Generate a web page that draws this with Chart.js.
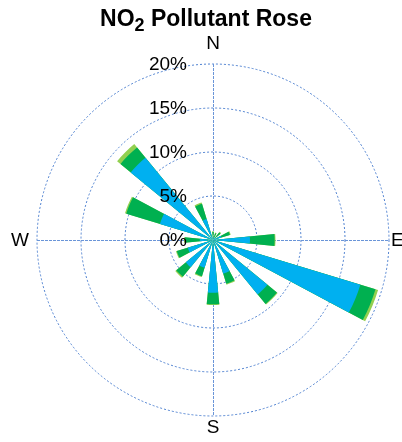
<!DOCTYPE html>
<html>
<head>
<meta charset="utf-8">
<script src="https://cdn.jsdelivr.net/npm/chart.js@4"></script>
<style>
  body { margin: 0; background: #fff; }
  .wrap { position: relative; width: 402px; height: 442px; }
  .title {
    position: absolute; left: 5px; top: 5px; width: 402px;
    text-align: center; font: bold 23px "Liberation Sans", Arial, sans-serif; color: #000;
  }
  .title sub { font-size: 18px; vertical-align: -5px; line-height: 0; }
  canvas { position: absolute; left: 0; top: 0; }
</style>
</head>
<body>
<div class="wrap">
  <canvas id="rose" width="402" height="442"></canvas>
  <div class="title">NO<sub>2</sub> Pollutant Rose</div>
</div>
<script>
// wind sectors, clockwise from north
const directions = ['N', 'NNE', 'NE', 'ENE', 'E', 'ESE', 'SE', 'SSE', 'S', 'SSW', 'SW', 'WSW', 'W', 'WNW', 'NW', 'NNW'];

// frequency (%) per sector for each concentration band, inner to outer
const bandLow  = [0.3, 0.3, 0.4, 1.0, 4.2, 17.5, 8.0, 4.0, 6.0, 3.3, 4.0, 3.0, 1.5, 6.3, 12.1, 2.5];
const bandMid  = [0.6, 0.5, 0.7, 1.0, 2.8, 1.8, 1.4, 1.2, 1.3, 1.0, 1.4, 1.3, 1.7, 4.0, 1.5, 1.8];
const bandHigh = [0.1, 0.1, 0.1, 0.1, 0.1, 0.3, 0.1, 0.1, 0.1, 0.1, 0.15, 0.1, 0.1, 0.15, 0.5, 0.15];

const ringTicks = [0, 5, 10, 15, 20];
const compass = ['N', 'E', 'S', 'W'];

const bandColors = ['#00B0F0', '#00B050', '#92D050'];
const gridColor = '#4F81D0';
const font = '"Liberation Sans", Arial, sans-serif';

// cumulative radii so the bands stack outward
const cumLow  = bandLow;
const cumMid  = bandLow.map((v, i) => v + bandMid[i]);
const cumHigh = cumMid.map((v, i) => v + bandHigh[i]);

// every sector is followed by an empty slot of the same width, so petals get gaps
const spread = arr => arr.flatMap(v => [v, 0]);
const labels = directions.flatMap(d => [d, '']);

const roseDecor = {
  id: 'roseDecor',
  beforeDatasetsDraw(chart) {
    const r = chart.scales.r;
    const ctx = chart.ctx;
    const R = r.drawingArea;
    ctx.save();
    ctx.strokeStyle = '#6A95D8';
    ctx.lineWidth = 1;
    ctx.setLineDash([3, 1]);
    ctx.beginPath();
    ctx.moveTo(r.xCenter + 0.5, r.yCenter - R);
    ctx.lineTo(r.xCenter + 0.5, r.yCenter + R);
    ctx.moveTo(r.xCenter - R, r.yCenter + 0.5);
    ctx.lineTo(r.xCenter + R, r.yCenter + 0.5);
    ctx.stroke();
    ctx.restore();
  },
  afterDatasetsDraw(chart) {
    const r = chart.scales.r;
    const ctx = chart.ctx;
    const R = r.drawingArea;
    ctx.save();
    ctx.fillStyle = '#000';
    ctx.font = '19px ' + font;

    // ring labels along the north axis
    ctx.textAlign = 'right';
    ctx.textBaseline = 'middle';
    ringTicks.forEach(v => {
      const y = r.yCenter - r.getDistanceFromCenterForValue(v);
      ctx.fillText(v + '%', r.xCenter - 26, y + 1);
    });

    // compass letters
    const pos = {
      N: [r.xCenter, r.yCenter - R - 20, 'center'],
      E: [r.xCenter + R + 2, r.yCenter + 1, 'left'],
      S: [r.xCenter, r.yCenter + R + 12, 'center'],
      W: [r.xCenter - R - 8, r.yCenter + 1, 'right']
    };
    compass.forEach(c => {
      const [x, y, align] = pos[c];
      ctx.textAlign = align;
      ctx.fillText(c, x, y);
    });
    ctx.restore();
  }
};

new Chart(document.getElementById('rose'), {
  type: 'polarArea',
  data: {
    labels,
    datasets: [
      { label: 'low',  data: spread(cumLow),  backgroundColor: bandColors[0] },
      { label: 'mid',  data: spread(cumMid),  backgroundColor: bandColors[1] },
      { label: 'high', data: spread(cumHigh), backgroundColor: bandColors[2] }
    ]
  },
  options: {
    responsive: false,
    animation: false,
    events: [],
    devicePixelRatio: 1,
    layout: { padding: { left: 37, right: 13, top: 64, bottom: 26 } },
    elements: { arc: { borderWidth: 0 } },
    plugins: { legend: { display: false }, title: { display: false }, tooltip: { enabled: false } },
    scales: {
      r: {
        min: 0,
        max: 20,
        startAngle: -360 / 64,
        ticks: { display: false, stepSize: 5 },
        pointLabels: { display: false },
        angleLines: { display: false },
        grid: { circular: true, color: gridColor, lineWidth: 1 },
        border: { dash: [2, 2] }
      }
    }
  },
  plugins: [roseDecor]
});
</script>
</body>
</html>
